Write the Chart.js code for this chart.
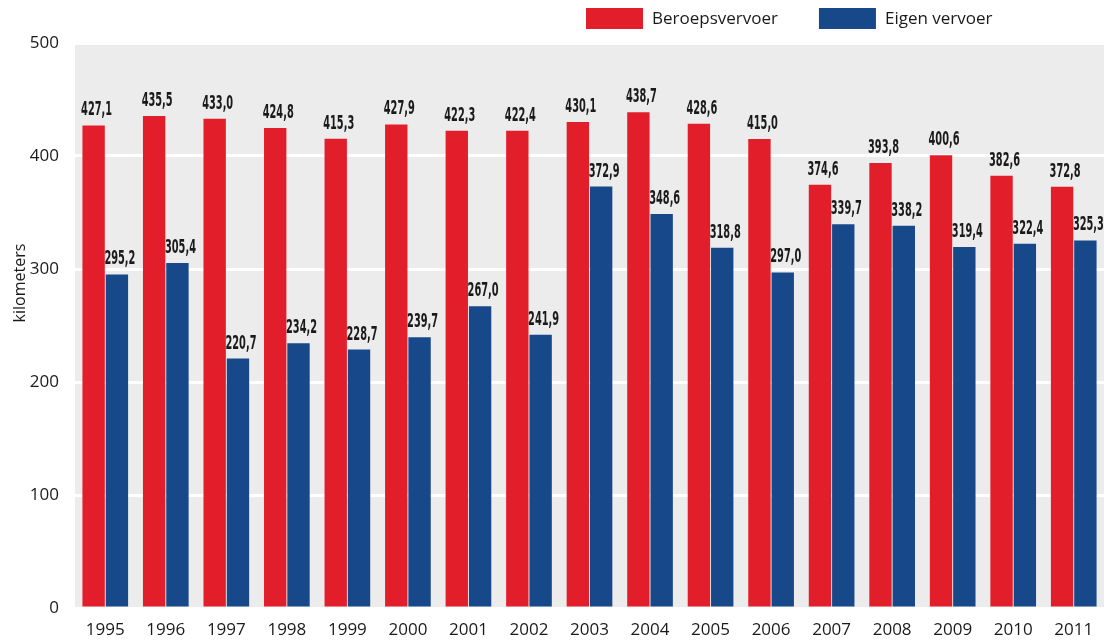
<!DOCTYPE html>
<html>
<head>
<meta charset="utf-8">
<script src="https://cdn.jsdelivr.net/npm/chart.js@4/dist/chart.umd.min.js"></script>
<style>
  html, body { margin: 0; padding: 0; background: #fff; }
  #wrap { width: 1110px; height: 640px; position: relative; }
</style>
</head>
<body>
<div id="wrap"><canvas id="chart"></canvas></div>
<script>
// chart data
const years = ["1995", "1996", "1997", "1998", "1999", "2000", "2001", "2002", "2003",
  "2004", "2005", "2006", "2007", "2008", "2009", "2010", "2011"];
const beroepsvervoer = [427.1, 435.5, 433.0, 424.8, 415.3, 427.9, 422.3, 422.4, 430.1,
  438.7, 428.6, 415.0, 374.6, 393.8, 400.6, 382.6, 372.8];
const eigenVervoer = [295.2, 305.4, 220.7, 234.2, 228.7, 239.7, 267.0, 241.9, 372.9,
  348.6, 318.8, 297.0, 339.7, 338.2, 319.4, 322.4, 325.3];
const seriesNames = ["Beroepsvervoer", "Eigen vervoer"];
const yTicks = [0, 100, 200, 300, 400, 500];

const RED = "#e31e2b";
const BLUE = "#17488a";
const TEXT = "#1a1a1a";
const FONT = "'Open Sans', 'Noto Sans', sans-serif";

// grey plot background
const plotBg = {
  id: "plotBg",
  beforeDraw(chart) {
    const { ctx, chartArea: a } = chart;
    ctx.save();
    ctx.fillStyle = "#ececec";
    ctx.fillRect(a.left, a.top, a.right - a.left, a.bottom - a.top);
    ctx.restore();
  },
};

// value labels above each bar, condensed, with a decimal comma
const valueLabels = {
  id: "valueLabels",
  afterDatasetsDraw(chart) {
    const ctx = chart.ctx;
    ctx.save();
    ctx.fillStyle = TEXT;
    ctx.font = "bold 19px 'DejaVu Sans Condensed', 'Open Sans', sans-serif";
    ctx.textAlign = "center";
    ctx.textBaseline = "alphabetic";
    const sx = 31 / ctx.measureText("427,1").width; // squeeze to a narrow face
    chart.data.datasets.forEach((ds, i) => {
      chart.getDatasetMeta(i).data.forEach((bar, j) => {
        const txt = ds.data[j].toFixed(1).replace(".", ",");
        ctx.save();
        ctx.translate(bar.x + 3, bar.y - 10);
        ctx.scale(sx, 1);
        ctx.fillText(txt, 0, 0);
        ctx.restore();
      });
    });
    ctx.restore();
  },
};

// legend at top right and rotated y title
const extras = {
  id: "extras",
  afterDraw(chart) {
    const ctx = chart.ctx;
    ctx.save();
    ctx.font = "17px " + FONT;
    ctx.textBaseline = "middle";
    ctx.textAlign = "left";
    let x = 586;
    chart.data.datasets.forEach((ds) => {
      ctx.fillStyle = ds.backgroundColor;
      ctx.fillRect(x, 8, 57, 21);
      ctx.fillStyle = TEXT;
      ctx.fillText(ds.label, x + 66, 19);
      x += 66 + ctx.measureText(ds.label).width + 41;
    });

    ctx.translate(20, 283);
    ctx.rotate(-Math.PI / 2);
    ctx.textAlign = "center";
    ctx.font = "16px " + FONT;
    ctx.fillText("kilometers", 0, 0);
    ctx.restore();
  },
};

new Chart(document.getElementById("chart"), {
  type: "bar",
  data: {
    labels: years,
    datasets: [
      { label: seriesNames[0], data: beroepsvervoer, backgroundColor: RED },
      { label: seriesNames[1], data: eigenVervoer, backgroundColor: BLUE },
    ],
  },
  options: {
    responsive: true,
    maintainAspectRatio: false,
    animation: false,
    categoryPercentage: 0.77,
    barPercentage: 0.96,
    layout: { padding: { top: 43, right: 6, left: 0, bottom: 0 } },
    plugins: {
      legend: { display: false },
      tooltip: { enabled: false },
    },
    scales: {
      x: {
        grid: { display: false },
        border: { display: false },
        ticks: { color: TEXT, font: { family: FONT, size: 17 }, padding: 4 },
        afterFit: (s) => { s.height = 32; },
      },
      y: {
        min: 0,
        max: 500,
        afterBuildTicks: (s) => { s.ticks = yTicks.map((v) => ({ value: v })); },
        grid: { color: "#ffffff", lineWidth: 3, drawTicks: false },
        border: { display: false },
        ticks: { color: TEXT, font: { family: FONT, size: 17 }, padding: 16 },
        afterFit: (s) => { s.width = 75; },
      },
    },
  },
  plugins: [plotBg, valueLabels, extras],
});
</script>
</body>
</html>
